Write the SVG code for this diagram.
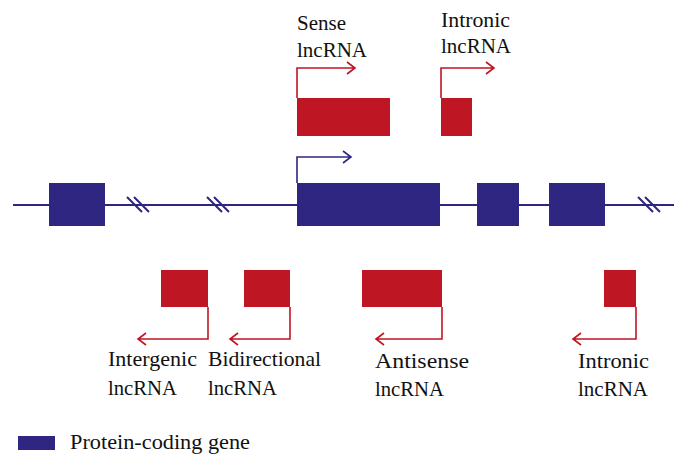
<svg xmlns="http://www.w3.org/2000/svg" width="688" height="468" viewBox="0 0 688 468">
<defs>
<style>
.blue{fill:#2e2680}
.red{fill:#be1622}
.line{stroke:#2e2680;stroke-width:2;fill:none}
.brk{stroke:#2e2680;stroke-width:2;fill:none}
.barr{stroke:#2e2680;stroke-width:1.6;fill:none}
.rarr{stroke:#be1622;stroke-width:1.6;fill:none}
text{font-family:"Liberation Serif","Times New Roman",serif;font-size:21.5px;fill:#111}
</style>
</defs>
<rect width="688" height="468" fill="#fff"/>
<g id="connectors">
<line class="line" x1="13" y1="205" x2="674" y2="205"/>
<path class="brk" d="M127 197 L142 212 M134 197 L149 212"/>
<path class="brk" d="M207 197 L222 212 M214 197 L229 212"/>
<path class="brk" d="M638 197 L653 212 M645 197 L660 212"/>
<path class="barr" d="M297 183 V157 H351 M343 151 L351 157 L343 163"/>
<path class="rarr" d="M297 98 V68 H355 M347 62 L355 68 L347 74"/>
<path class="rarr" d="M441 98 V68 H494 M486 62 L494 68 L486 74"/>
<path class="rarr" d="M208 307 V339 H138 M146 333 L138 339 L146 345"/>
<path class="rarr" d="M290 307 V339 H230 M238 333 L230 339 L238 345"/>
<path class="rarr" d="M442 307 V339 H376 M384 333 L376 339 L384 345"/>
<path class="rarr" d="M636 307 V339 H573 M581 333 L573 339 L581 345"/>
</g>
<g id="exon1"><rect class="blue" x="49" y="183" width="56" height="43"/></g>
<g id="exon2"><rect class="blue" x="297" y="183" width="143" height="43"/></g>
<g id="exon3"><rect class="blue" x="477" y="183" width="42" height="43"/></g>
<g id="exon4"><rect class="blue" x="549" y="183" width="56" height="43"/></g>
<g id="sense">
<rect class="red" x="297" y="98" width="93" height="38"/>
<text x="297" y="30" textLength="49" lengthAdjust="spacingAndGlyphs">Sense</text>
<text x="297" y="57" textLength="70" lengthAdjust="spacingAndGlyphs">lncRNA</text>
</g>
<g id="intronic-top">
<rect class="red" x="441" y="98" width="31" height="38"/>
<text x="441" y="27" textLength="69" lengthAdjust="spacingAndGlyphs">Intronic</text>
<text x="441" y="53" textLength="70" lengthAdjust="spacingAndGlyphs">lncRNA</text>
</g>
<g id="intergenic">
<rect class="red" x="161" y="270" width="47" height="37"/>
<text x="108" y="366" textLength="89" lengthAdjust="spacingAndGlyphs">Intergenic</text>
<text x="108" y="395" textLength="69" lengthAdjust="spacingAndGlyphs">lncRNA</text>
</g>
<g id="bidirectional">
<rect class="red" x="244" y="270" width="46" height="37"/>
<text x="208" y="366" textLength="113" lengthAdjust="spacingAndGlyphs">Bidirectional</text>
<text x="208" y="395" textLength="69" lengthAdjust="spacingAndGlyphs">lncRNA</text>
</g>
<g id="antisense">
<rect class="red" x="362" y="270" width="80" height="37"/>
<text x="375" y="368" textLength="94" lengthAdjust="spacingAndGlyphs">Antisense</text>
<text x="375" y="396" textLength="69" lengthAdjust="spacingAndGlyphs">lncRNA</text>
</g>
<g id="intronic-bottom">
<rect class="red" x="604" y="270" width="32" height="37"/>
<text x="578" y="368" textLength="71" lengthAdjust="spacingAndGlyphs">Intronic</text>
<text x="578" y="396" textLength="70" lengthAdjust="spacingAndGlyphs">lncRNA</text>
</g>
<g id="legend">
<rect class="blue" x="18" y="436" width="37" height="14"/>
<text x="70" y="449" textLength="180" lengthAdjust="spacingAndGlyphs">Protein-coding gene</text>
</g>
</svg>
